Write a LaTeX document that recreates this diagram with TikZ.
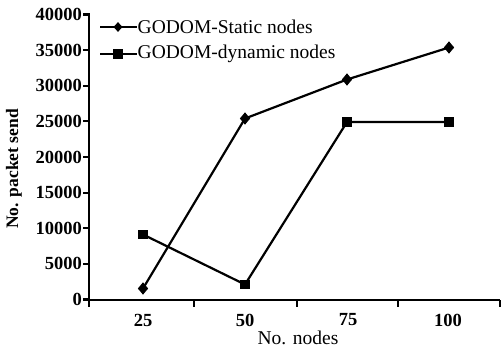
\documentclass[tikz,border=0pt]{standalone}
\usepackage{fontspec}
\setmainfont{Liberation Serif}
\usetikzlibrary{shapes.geometric}
\begin{document}
\begin{tikzpicture}[x=1pt,y=-1pt,
  axisline/.style={line width=2.6pt},
  dataline/.style={line width=2.2pt},
  dmark/.style={diamond,fill=black,inner sep=0pt,minimum width=10.5pt,minimum height=12.5pt},
  smark/.style={rectangle,fill=black,inner sep=0pt,minimum size=9.5pt},
  ticklab/.style={font=\fontsize{18.5}{18.5}\selectfont\bfseries,inner sep=0pt},
  legtext/.style={font=\fontsize{19.5}{19.5}\selectfont,inner sep=0pt,anchor=west},
  ]
\useasboundingbox (0,0) rectangle (501,351);
% axes
\coordinate (O) at (89,300);
\coordinate (Ytop) at (89,13);
\coordinate (Xend) at (500,300);
\draw[axisline] (Ytop) -- (O) -- (Xend);
% y ticks
\foreach \k/\lab in {0/0,1/5000,2/10000,3/15000,4/20000,5/25000,6/30000,7/35000,8/40000}{
  \pgfmathsetmacro{\py}{299.5-35.625*\k}
  \draw[line width=2.2pt] (83,\py) -- (89,\py);
  \node[ticklab,anchor=east] at (82,\py) {\lab};
}
% x ticks
\foreach \px in {194,297,398,500}{
  \draw[line width=2.2pt] (\px,300) -- (\px,307);
}
\draw[line width=2.2pt] (89,300) -- (89,307);
\node[ticklab] at (143,320) {25};
\node[ticklab] at (245,320) {50};
\node[ticklab] at (348,320) {75};
\node[ticklab] at (448,320) {100};
% axis labels
\node[font=\fontsize{19.5}{19.5}\selectfont,inner sep=0pt] (xl) at (298,338) {No. nodes};
\node[font=\fontsize{17.5}{17.5}\selectfont\bfseries,inner sep=0pt,rotate=90] (yl) at (14,169) {No. packet send};
% data static
\node[dmark] (s1) at (143,288.5) {};
\node[dmark] (s2) at (245,118.5) {};
\node[dmark] (s3) at (347,79.5) {};
\node[dmark] (s4) at (449,47.5) {};
\draw[dataline] (s1.center) -- (s2.center) -- (s3.center) -- (s4.center);
% data dynamic
\node[smark] (d1) at (143,234.5) {};
\node[smark] (d2) at (245,284.5) {};
\node[smark] (d3) at (347,122) {};
\node[smark] (d4) at (449,122) {};
\draw[dataline] (d1.center) -- (d2.center) -- (d3.center) -- (d4.center);
% legend
\coordinate (l1a) at (100,27);
\coordinate (l1b) at (137,27);
\node[dmark,minimum width=9pt,minimum height=10pt] (l1m) at (118,27) {};
\draw[dataline] (l1a) -- (l1b);
\node[legtext] (l1t) at (137.5,27) {GODOM-Static nodes};
\coordinate (l2a) at (100,54);
\coordinate (l2b) at (137,54);
\node[smark] (l2m) at (118,54) {};
\draw[dataline] (l2a) -- (l2b);
\node[legtext] (l2t) at (137.5,54) {GODOM-dynamic nodes};
\end{tikzpicture}
\end{document}
